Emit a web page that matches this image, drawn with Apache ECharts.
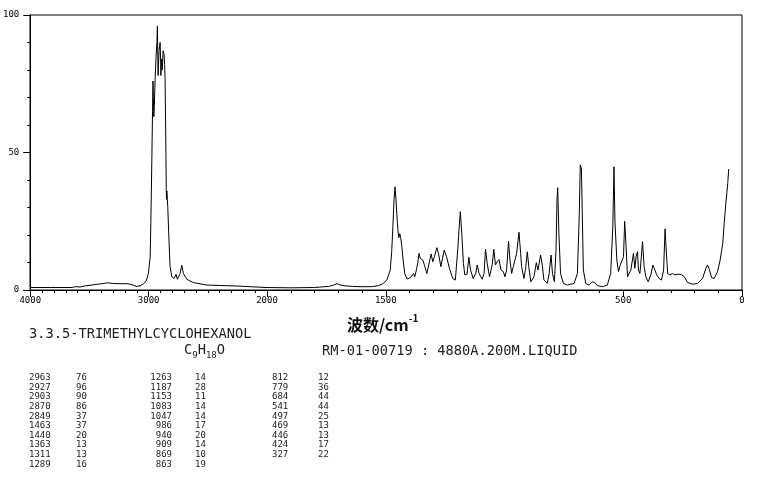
<!DOCTYPE html>
<html><head><meta charset="utf-8">
<script src="https://cdn.jsdelivr.net/npm/echarts@6/dist/echarts.min.js"></script>
<style>html,body{margin:0;padding:0;background:#fff}#c{width:765px;height:479px}</style>
</head><body><div id="c"></div>
<script>
// Raman spectrum, 4000-2000 cm-1 (compressed scale): [wavenumber, intensity]
const highRangeSpectrum = [
[4000,0.9],[3831,0.9],[3646,0.9],[3620,1.2],[3578,1.1],[3536,1.5],[3494,1.7],[3452,2.0],[3409,2.2],[3367,2.5],
[3342,2.6],[3308,2.4],[3241,2.3],[3173,2.3],[3131,1.8],[3106,1.3],[3072,1.5],[3044,2.3],[3021,3.2],[3002,6],
[2987,12],[2981,25],[2973,47],[2967,65],[2965,72],[2963,76],[2960,70],[2956,63],[2951,68],[2945,77],
[2937,85],[2930,90],[2926,96],[2922,84],[2920,78],[2912,87],[2906,89],[2903,90],[2899,84],[2897,78],
[2889,84],[2885,80],[2878,87],[2870,86],[2865,82],[2861,77],[2855,55],[2851,37],[2849,33],[2846,36],
[2838,30],[2827,17],[2819,8.5],[2804,4.8],[2785,4.2],[2768,5.7],[2757,3.9],[2734,6],[2720,9],[2706,6],
[2678,3.9],[2622,2.7],[2509,1.8],[2287,1.5],[2143,1.2],[2000,0.9]
];
// 2000-0 cm-1
const lowRangeSpectrum = [
[2000,0.9],[1900,0.8],[1800,0.9],[1760,1.2],[1740,1.3],[1720,1.8],[1705,2.3],[1690,1.8],[1670,1.5],[1640,1.3],
[1600,1.2],[1560,1.2],[1530,1.6],[1510,2.4],[1495,3.7],[1481,7.3],[1475,14],[1470,23],[1465,33],[1461,37.5],
[1457,33],[1453,27],[1449,22],[1445,19],[1441,20.5],[1437,19],[1432,15.7],[1427,11],[1420,6],[1410,4],
[1404,3.6],[1396,4.5],[1390,4.8],[1383,6],[1378,4.8],[1371,7.3],[1365,10],[1360,13.3],[1355,11.5],[1344,10.9],
[1337,9],[1327,6],[1316,10.3],[1309,13.1],[1302,10.3],[1295,12.1],[1285,15.4],[1278,13.3],[1268,8.5],[1261,11.5],
[1254,14.5],[1244,12.1],[1232,7.9],[1218,4.2],[1207,3.6],[1197,14.5],[1190,24],[1186,28.5],[1180,20.6],[1173,9.7],
[1167,5.5],[1158,5.7],[1150,11.9],[1143,7.3],[1132,4.2],[1121,6],[1115,9.1],[1107,6],[1094,3.9],[1086,6],
[1080,14.9],[1073,9.7],[1063,4.8],[1052,9.1],[1045,14.8],[1038,9.1],[1031,10.3],[1023,11.1],[1015,7.3],[1005,6.7],
[998,4.8],[991,7.3],[983,17.8],[977,10.9],[970,6],[963,8.5],[956,10.9],[949,13.3],[939,21],[932,13.3],
[928,8.5],[918,4.2],[911,7.9],[904,13.9],[897,7.9],[889,3],[883,3],[876,4.8],[866,9.9],[859,7.3],
[848,12.7],[841,9.1],[834,3.6],[820,2.4],[812,6],[804,12.7],[798,6],[790,3],[783,14.5],[779,32.7],
[776,37.2],[771,20.6],[764,6],[752,2.4],[735,1.8],[729,1.6],[707,2.4],[693,6],[685,27.9],[681,45.5],
[676,44],[672,25.5],[668,7.3],[658,2.4],[644,1.8],[630,3],[620,2.7],[609,1.6],[588,1.2],[567,1.8],
[553,6],[544,23],[539,44.8],[535,25],[527,10.9],[520,6.7],[513,9],[506,9.7],[499,12.1],[494,25],
[488,15.7],[482,4.8],[475,4.2],[468,7.3],[457,13.3],[451,7.9],[446,12.1],[440,13.9],[436,7.3],[430,6],
[425,10.9],[419,17.6],[412,8.5],[405,4.8],[395,3],[384,5.5],[375,9.1],[367,7.3],[359,5.5],[349,4.2],
[339,3.6],[330,7.3],[324,22.2],[319,14.5],[313,6],[304,5.5],[292,6],[283,5.5],[269,5.8],[254,5.5],
[243,4.8],[229,2.7],[208,2.1],[187,2.4],[166,4.2],[152,7.9],[145,9.1],[138,7.6],[128,4.5],[117,4.2],
[103,6.7],[92,10.9],[81,17],[75,24.2],[68,31.5],[60,38.8],[56,44]
];
const highXLabels = [4000, 3000];
const lowXLabels = [2000, 1500, 500, 0];
const yLabels = [0, 50, 100];
const axisTitle = '波数/cm';
const axisTitleSup = '-1';
const compoundName = '3.3.5-TRIMETHYLCYCLOHEXANOL';
const formulaParts = ['C', '9', 'H', '18', 'O'];
const sampleInfo = 'RM-01-00719 : 4880A.200M.LIQUID';
const peakWavenumbers = [2963,2927,2903,2870,2849,1463,1440,1363,1311,1289,
  1263,1187,1153,1083,1047,986,940,909,869,863,
  812,779,684,541,497,469,446,424,327];
const peakIntensities = [76,96,90,86,37,37,20,13,13,16,
  14,28,11,14,14,17,20,14,10,19,
  12,36,44,44,25,13,13,17,22];

const chart = echarts.init(document.getElementById('c'), null, {renderer: 'canvas'});
const BLACK = '#000';
const lblFont = {color: BLACK, fontSize: 9, fontFamily: 'DejaVu Sans Mono'};
const G_TOP = 15, G_H = 275;

const graphics = [];
graphics.push({type: 'text', left: 347, top: 313, style: {
  text: '{a|' + axisTitle + '}{b|' + axisTitleSup + '}',
  rich: {
    a: {fontSize: 16, fontWeight: 'bold', fontFamily: 'Noto Sans CJK SC', fill: '#111', lineHeight: 20, verticalAlign: 'bottom'},
    b: {fontSize: 10, fontWeight: 'bold', fontFamily: 'Noto Sans CJK SC', fill: '#111', lineHeight: 20, verticalAlign: 'top'}
  }}});
graphics.push({type: 'text', left: 29, top: 327, style: {text: compoundName, fontSize: 13.7, fontFamily: 'DejaVu Sans Mono', fill: '#222'}});
graphics.push({type: 'text', left: 184, top: 343, style: {
  text: '{n|' + formulaParts[0] + '}{s|' + formulaParts[1] + '}{n|' + formulaParts[2] + '}{s|' + formulaParts[3] + '}{n|' + formulaParts[4] + '}',
  rich: {
    n: {fontSize: 13.7, fontFamily: 'DejaVu Sans Mono', fill: '#222', lineHeight: 20, verticalAlign: 'middle'},
    s: {fontSize: 9, fontFamily: 'DejaVu Sans Mono', fill: '#222', lineHeight: 20, verticalAlign: 'bottom'}
  }}});
graphics.push({type: 'text', left: 322, top: 344, style: {text: sampleInfo, fontSize: 13.7, fontFamily: 'DejaVu Sans Mono', fill: '#222'}});

// peak table: 3 column groups of 10 rows
const colWnX = [29, 172, 272], colWnAlign = ['left', 'right', 'left'], colIntX = [76, 195, 318];
peakWavenumbers.forEach((w, i) => {
  const c = Math.floor(i / 10), r = i % 10;
  const yy = 377.7 + r * 9.63;
  graphics.push({type: 'text', x: colWnX[c], y: yy, style: {text: String(w), fontSize: 9, fontFamily: 'DejaVu Sans Mono', fill: '#222', align: colWnAlign[c], verticalAlign: 'middle'}});
  graphics.push({type: 'text', x: colIntX[c], y: yy, style: {text: String(peakIntensities[i]), fontSize: 9, fontFamily: 'DejaVu Sans Mono', fill: '#222', align: 'left', verticalAlign: 'middle'}});
});

const option = {
  animation: false,
  backgroundColor: '#fff',
  grid: [
    {left: 30, top: G_TOP, width: 237, height: G_H},
    {left: 267, top: G_TOP, width: 475, height: G_H},
    {left: 30, top: G_TOP, width: 712, height: G_H, show: true, borderColor: BLACK, borderWidth: 1, backgroundColor: 'transparent'}
  ],
  xAxis: [
    {gridIndex: 0, type: 'value', min: 2000, max: 4000, inverse: true, interval: 1000,
      axisLine: {lineStyle: {color: BLACK}}, splitLine: {show: false},
      axisTick: {length: 7, lineStyle: {color: BLACK}},
      minorTick: {show: true, splitNumber: 10, length: 3, lineStyle: {color: BLACK}},
      axisLabel: Object.assign({margin: 6, showMinLabel: true, showMaxLabel: true,
        formatter: v => highXLabels.includes(v) ? String(v) : ''}, lblFont)},
    {gridIndex: 1, type: 'value', min: 0, max: 2000, inverse: true, interval: 100,
      axisLine: {lineStyle: {color: BLACK}}, splitLine: {show: false},
      axisTick: {length: 3, lineStyle: {color: BLACK}}, axisLabel: {show: false}},
    {gridIndex: 1, type: 'value', min: 0, max: 2000, inverse: true, interval: 500, position: 'bottom',
      axisLine: {show: false}, splitLine: {show: false},
      axisTick: {length: 7, lineStyle: {color: BLACK}, customValues: lowXLabels},
      axisLabel: Object.assign({margin: 6, showMinLabel: true, showMaxLabel: true, customValues: lowXLabels,
        formatter: v => String(v)}, lblFont)},
    {gridIndex: 2, type: 'value', min: 0, max: 1, show: false}
  ],
  yAxis: [
    {gridIndex: 0, type: 'value', min: 0, max: 100, interval: 50,
      axisLine: {show: true, lineStyle: {color: BLACK}}, splitLine: {show: false},
      axisTick: {show: true, length: 7, lineStyle: {color: BLACK}},
      minorTick: {show: true, splitNumber: 5, length: 3, lineStyle: {color: BLACK}},
      axisLabel: Object.assign({margin: 11, formatter: v => yLabels.includes(v) ? String(v) : ''}, lblFont)},
    {gridIndex: 1, type: 'value', min: 0, max: 100, show: false},
    {gridIndex: 2, type: 'value', min: 0, max: 1, show: false}
  ],
  series: [
    {type: 'line', xAxisIndex: 0, yAxisIndex: 0, data: highRangeSpectrum, showSymbol: false, symbol: 'none',
      lineStyle: {color: BLACK, width: 1}, silent: true},
    {type: 'line', xAxisIndex: 1, yAxisIndex: 1, data: lowRangeSpectrum, showSymbol: false, symbol: 'none',
      lineStyle: {color: BLACK, width: 1}, silent: true}
  ],
  graphic: graphics
};
chart.setOption(option);
</script></body></html>
